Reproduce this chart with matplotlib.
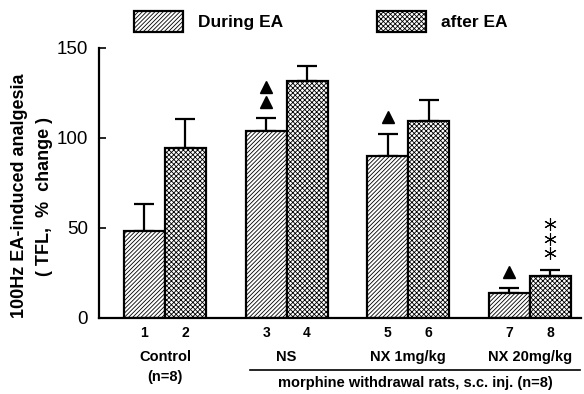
import matplotlib
matplotlib.use("Agg")
import matplotlib.pyplot as plt
import matplotlib.transforms as mtrans
from matplotlib.patches import Patch
import numpy as np

# valeurs
groups = ["Control", "NS", "NX 1mg/kg", "NX 20mg/kg"]
bar_numbers = ["1", "2", "3", "4", "5", "6", "7", "8"]
during_ea = [48.5, 103.9, 90.2, 14.1]
during_err = [14.8, 7.0, 12.2, 2.6]
after_ea = [94.6, 131.8, 109.6, 23.1]
after_err = [15.8, 8.2, 11.5, 3.4]
triangles_during = [0, 2, 1, 1]
stars_after = [0, 0, 0, 3]

plt.rcParams["font.family"] = ["Liberation Sans", "DejaVu Sans"]
plt.rcParams["hatch.linewidth"] = 0.6

W, H = 584, 394
fig = plt.figure(figsize=(W / 100, H / 100), dpi=100)
ax = fig.add_axes([99 / W, (H - 318) / H, (581 - 99) / W, 270 / H])

HATCH_D = "////////"
HATCH_A = "xxxxxxx"

x = np.arange(1, len(groups) + 1)
bw = 0.337
ekw = dict(lw=1.6, capthick=1.6, capsize=7)
ax.bar(x - bw / 2, during_ea, bw, color="white", edgecolor="black", lw=1.6,
       hatch=HATCH_D, zorder=2)
ax.bar(x + bw / 2, after_ea, bw, color="white", edgecolor="black", lw=1.6,
       hatch=HATCH_A, zorder=2)
ax.errorbar(x - bw / 2, during_ea, yerr=[np.zeros(4), during_err], fmt="none",
            ecolor="black", zorder=1, **ekw)
ax.errorbar(x + bw / 2, after_ea, yerr=[np.zeros(4), after_err], fmt="none",
            ecolor="black", zorder=1, **ekw)

# marques de significativite
for i in range(len(groups)):
    top = during_ea[i] + during_err[i]
    for k in range(triangles_during[i]):
        ax.plot(x[i] - bw / 2, top + 9 + 8.6 * k, marker="^", color="black",
                ms=9, clip_on=False)
    top = after_ea[i] + after_err[i]
    for k in range(stars_after[i]):
        ax.plot(x[i] + bw / 2, top + 9.5 + 8.1 * k, marker=(6, 2, 0), color="black",
                ms=9, mew=0.8, clip_on=False)

ax.set_xlim(0.458, 4.42)
ax.set_ylim(0, 150)
ax.set_yticks([0, 50, 100, 150])
ax.tick_params(axis="y", direction="in", length=5, width=1.2, labelsize=13.5, pad=8)
ax.set_xticks([])
for s in ["top", "right"]:
    ax.spines[s].set_visible(False)
ax.spines["left"].set_linewidth(1.6)
ax.spines["bottom"].set_linewidth(1.6)

fig.text(20 / W, (H - 196) / H, "100Hz EA-induced analgesia", rotation=90,
         ha="center", va="center", fontsize=13, fontweight="bold")
fig.text(45 / W, (H - 196) / H, "( TFL,  %  change )", rotation=90,
         ha="center", va="center", fontsize=13, fontweight="bold")

tr = mtrans.blended_transform_factory(ax.transData, fig.transFigure)
xs = np.ravel(np.column_stack([x - bw / 2, x + bw / 2]))
for xi, lab in zip(xs, bar_numbers):
    ax.text(xi, 1 - 333 / H, lab, transform=tr, ha="center", va="center",
            fontsize=10, fontweight="bold")
for xi, g in zip(x, groups):
    ax.text(xi, 1 - 357 / H, g, transform=tr, ha="center", va="center",
            fontsize=10.5, fontweight="bold")
ax.text(x[0], 1 - 377 / H, "(n=8)", transform=tr, ha="center", va="center",
        fontsize=10.5, fontweight="bold")
ax.plot([1.699, 4.41], [1 - 370 / H] * 2, transform=tr, color="black", lw=1.2,
        clip_on=False)
ax.text(3.06, 1 - 383 / H, "morphine withdrawal rats, s.c. inj. (n=8)", transform=tr,
        ha="center", va="center", fontsize=10.5, fontweight="bold")

handles = [Patch(facecolor="white", edgecolor="black", hatch=HATCH_D, lw=1.6),
           Patch(facecolor="white", edgecolor="black", hatch=HATCH_A, lw=1.6)]
fig.legend(handles, ["During EA", "after EA"], loc="upper left",
           bbox_to_anchor=(134 / W, 1 - 11 / H), ncol=2, frameon=False,
           handlelength=2.8, handleheight=1.45, handletextpad=0.9,
           columnspacing=5.4, borderpad=0, borderaxespad=0,
           prop={"weight": "bold", "size": 12.5})

fig.savefig("out.png", dpi=100)
